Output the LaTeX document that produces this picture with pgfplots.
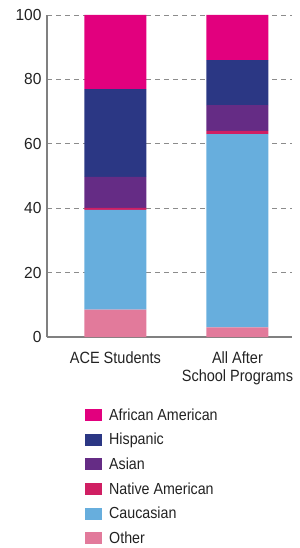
\documentclass[border=0pt]{standalone}
\usepackage{pgfplots}
\pgfplotsset{compat=1.18}
\usepackage{fontspec}
\setmainfont{Liberation Sans}[FakeStretch=0.89]
\newfontfamily\tickfont{Liberation Sans}[FakeStretch=0.97]
\definecolor{cAA}{HTML}{E2007E}
\definecolor{cHis}{HTML}{2B3784}
\definecolor{cAsi}{HTML}{652C85}
\definecolor{cNat}{HTML}{D01F63}
\definecolor{cCau}{HTML}{67AEDD}
\definecolor{cOth}{HTML}{E27A9B}
\definecolor{txt}{HTML}{222222}
\begin{document}
\begin{tikzpicture}
\path[use as bounding box] (0,0) rectangle (300bp,548bp);
\begin{axis}[
  at={(47bp,211bp)}, anchor=south west,
  scale only axis, width=245bp, height=322bp,
  xmin=-0.561, xmax=1.447, ymin=0, ymax=100,
  ybar stacked, bar width=62bp,
  xtick={0,1}, xticklabels={ACE Students, {All After\\School Programs}},
  xticklabel style={align=center, font=\fontsize{16.3bp}{18bp}\selectfont, text=txt},
  ytick={0,20,40,60,80,100},
  yticklabel style={font=\tickfont\fontsize{16bp}{18bp}\selectfont, text=txt},
  /pgf/number format/assume math mode=true,
  major tick length=0pt,
  axis x line*=bottom, axis y line*=left,
  axis line style={draw=black!50, line width=1.3pt},
  x axis line style={-}, y axis line style={-},
  ymajorgrids, grid style={draw=black!45, dash pattern=on 5bp off 4bp, line width=0.8pt},
  clip=false,
  reverse legend,
  legend style={at={(0.143,-0.209)}, anchor=north west, draw=none, fill=none,
    font=\fontsize{16bp}{18bp}\selectfont, text=txt, row sep=7.6bp,
    /tikz/every odd column/.append style={column sep=5bp}},
  legend cell align=left,
  legend image code/.code={\fill[#1] (0bp,-6bp) rectangle (17bp,6bp);},
  every axis plot/.append style={draw=none},
  xticklabel shift=11bp, yticklabel shift=2bp,
]
\addplot[fill=cOth] coordinates {(0,8.5) (1,3)};
\addplot[fill=cCau] coordinates {(0,31) (1,60)};
\addplot[fill=cNat] coordinates {(0,0.6) (1,1)};
\addplot[fill=cAsi] coordinates {(0,9.6) (1,8)};
\addplot[fill=cHis] coordinates {(0,27.3) (1,14)};
\addplot[fill=cAA] coordinates {(0,23) (1,14)};
\legend{Other, Caucasian, Native American, Asian, Hispanic, African American}
\end{axis}
\end{tikzpicture}
\end{document}
